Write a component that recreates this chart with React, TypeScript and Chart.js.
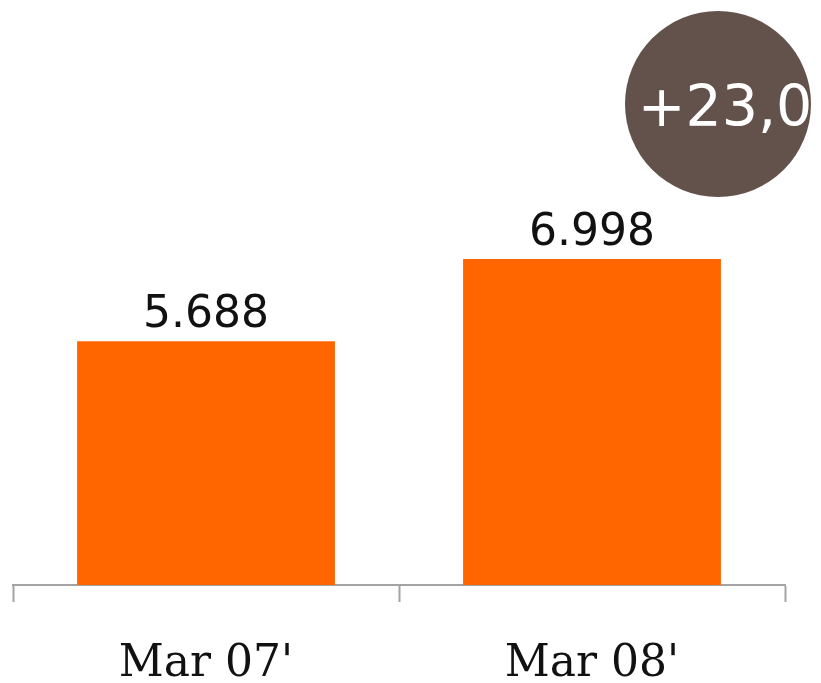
import React, { useEffect, useRef } from "react";
import { Chart, registerables } from "chart.js";

Chart.register(...registerables);

const categories = ["Mar 07'", "Mar 08'"];
const values = [5688, 6998];
const valueLabels = ["5.688", "6.998"];

const ORANGE = "#FF6600";
const BADGE = "#62524B";
const AXIS_GRAY = "#A3A3A3";

const changePct = ((values[1] / values[0]) - 1) * 100;
const badgeText = (changePct >= 0 ? "+" : "") + changePct.toFixed(1).replace(".", ",");

const overlayPlugin = {
  id: "overlay",
  afterDatasetsDraw(chart: any) {
    const ctx = chart.ctx;
    const meta = chart.getDatasetMeta(0);
    ctx.save();
    ctx.fillStyle = "#111111";
    ctx.font = "44px 'DejaVu Sans'";
    ctx.textAlign = "center";
    ctx.textBaseline = "alphabetic";
    meta.data.forEach((bar: any, i: number) => {
      ctx.fillText(valueLabels[i], bar.x, bar.y - 14);
    });
    // badge
    const cx = 718;
    const cy = 104;
    ctx.beginPath();
    ctx.arc(cx, cy, 93, 0, Math.PI * 2);
    ctx.fillStyle = BADGE;
    ctx.fill();
    ctx.fillStyle = "#FFFFFF";
    ctx.font = "57px 'DejaVu Sans'";
    ctx.textAlign = "center";
    ctx.textBaseline = "alphabetic";
    ctx.fillText(badgeText, 725, 126);
    ctx.restore();
  },
};

export default function App() {
  const ref = useRef<HTMLCanvasElement | null>(null);
  useEffect(() => {
    if (!ref.current) return;
    const chart = new Chart(ref.current, {
      type: "bar",
      data: {
        labels: categories,
        datasets: [
          {
            data: values,
            backgroundColor: ORANGE,
            borderWidth: 0,
            categoryPercentage: 1,
            barPercentage: 0.668,
          },
        ],
      },
      options: {
        responsive: false,
        animation: false,
        devicePixelRatio: 1,
        layout: { padding: { left: 13, right: 36, top: 8, bottom: 0 } },
        plugins: {
          legend: { display: false },
          tooltip: { enabled: false },
        },
        scales: {
          x: {
            afterFit: (axis: any) => {
              axis.height = 98;
            },
            grid: {
              display: true,
              offset: true,
              drawOnChartArea: false,
              drawTicks: true,
              tickLength: 17,
              tickColor: AXIS_GRAY,
              tickWidth: 2,
              color: AXIS_GRAY,
            },
            border: { display: true, color: AXIS_GRAY, width: 2 },
            ticks: {
              color: "#111111",
              padding: 41,
              font: { family: "'DejaVu Serif'", size: 44, lineHeight: 1 },
            },
          },
          y: {
            display: false,
            min: 1800,
            max: 11000,
          },
        },
      },
      plugins: [overlayPlugin],
    });
    return () => chart.destroy();
  }, []);
  return (
    <div style={{ position: "fixed", left: 0, top: 0, width: 821, height: 683, background: "#fff" }}>
      <canvas ref={ref} width={821} height={683} style={{ display: "block", width: 821, height: 683 }} />
    </div>
  );
}
